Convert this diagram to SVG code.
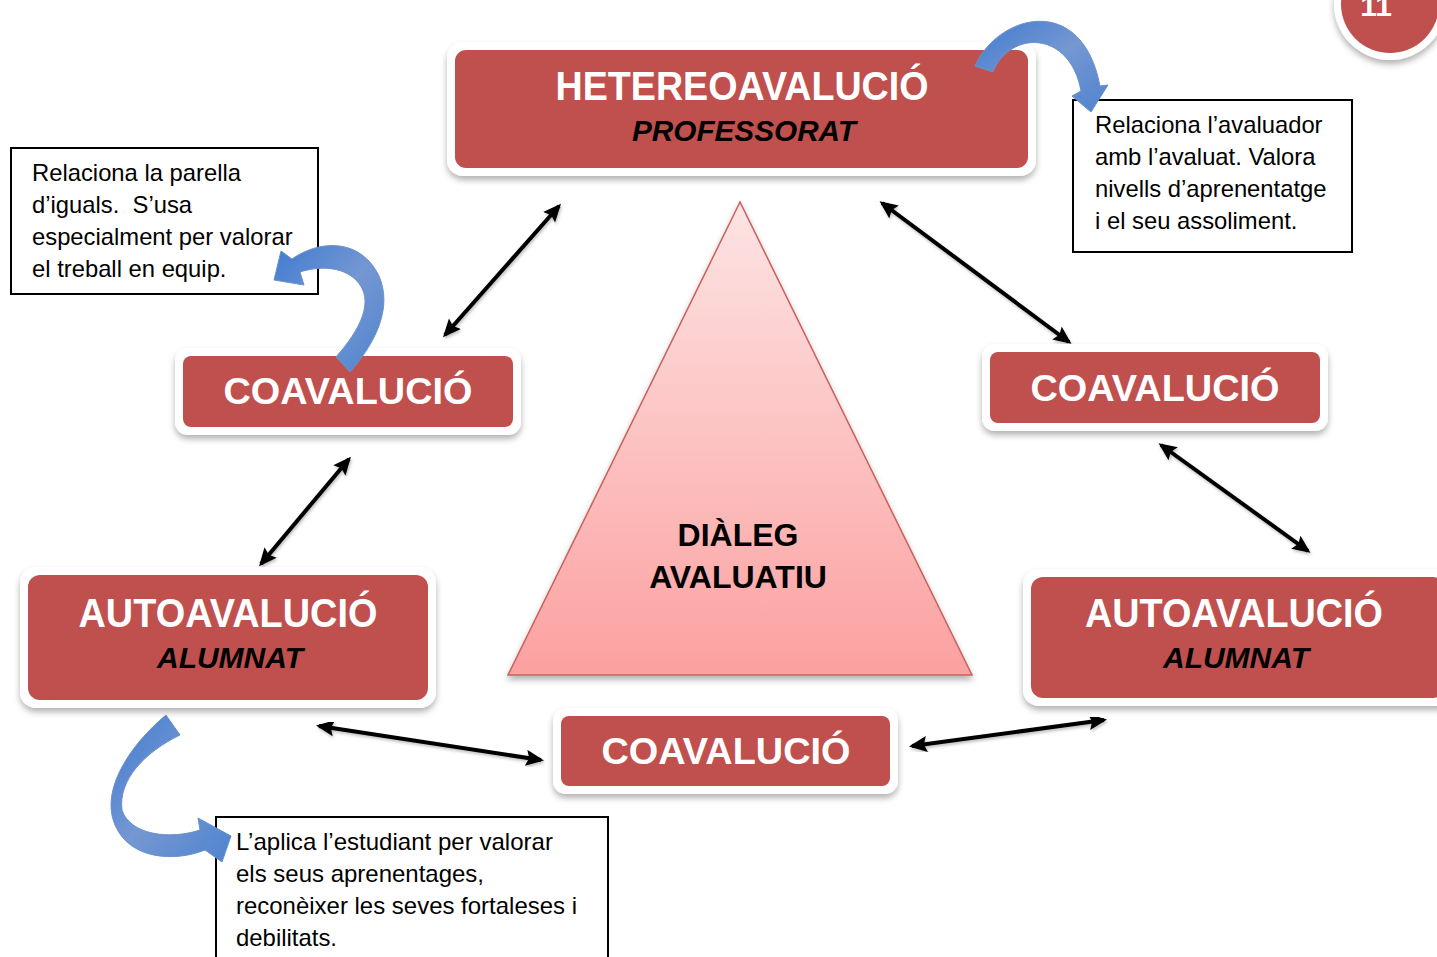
<svg xmlns="http://www.w3.org/2000/svg" width="1437" height="957" viewBox="0 0 1437 957">
<style>
.ring{fill:#ffffff;filter:url(#sh)}
.red{fill:#C0504D}
.ttl{font-family:"Liberation Sans",Arial,sans-serif;font-weight:bold;fill:#ffffff;text-anchor:middle}
.sub{font-family:"Liberation Sans",Arial,sans-serif;font-weight:bold;font-style:italic;fill:#000000;text-anchor:middle}
.note{fill:#ffffff;stroke:#000000;stroke-width:2}
.nt{font-family:"Liberation Sans",Arial,sans-serif;font-size:23.8px;fill:#000000;white-space:pre}
.con{stroke:#000000;stroke-width:4;fill:none;marker-start:url(#ah);marker-end:url(#ah);filter:url(#lsh)}
.blue{fill:url(#bg);stroke:#6a90cc;stroke-width:1}
</style>
<defs>
<filter id="sh" x="-10%" y="-10%" width="120%" height="140%">
<feDropShadow dx="0" dy="4" stdDeviation="3" flood-color="#000000" flood-opacity="0.3"/>
</filter>
<filter id="lsh" x="-10%" y="-10%" width="120%" height="130%">
<feDropShadow dx="1" dy="2" stdDeviation="1.5" flood-color="#000000" flood-opacity="0.25"/>
</filter>
<marker id="ah" markerUnits="userSpaceOnUse" markerWidth="20" markerHeight="18" refX="15" refY="8" orient="auto-start-reverse">
<path d="M0,0 L18,8 L0,16 L3,8 Z" fill="#000000"/>
</marker>
<linearGradient id="tg" x1="0" y1="0" x2="0" y2="1">
<stop offset="0" stop-color="#fde4e4"/>
<stop offset="1" stop-color="#fba1a0"/>
</linearGradient>
<linearGradient id="bg" x1="0" y1="0" x2="1" y2="1">
<stop offset="0" stop-color="#3f7bd0"/>
<stop offset="0.5" stop-color="#7597d2"/>
<stop offset="1" stop-color="#4f84cf"/>
</linearGradient>
</defs>
<rect width="1437" height="957" fill="#ffffff"/>

<g id="page-number">
<circle cx="1390" cy="4" r="56" class="ring"/>
<circle cx="1390" cy="4" r="49" class="red"/>
<text x="1376" y="16" class="ttl" font-size="30">11</text>
</g>

<g id="triangle">
<polygon points="740,202 508,675 972,675" fill="url(#tg)" stroke="#c9605c" stroke-width="1.5" filter="url(#sh)"/>
<text x="738" y="546" font-family="Liberation Sans,Arial,sans-serif" font-weight="bold" font-size="32" text-anchor="middle" fill="#000">DIÀLEG</text>
<text x="738" y="588" font-family="Liberation Sans,Arial,sans-serif" font-weight="bold" font-size="32" text-anchor="middle" fill="#000">AVALUATIU</text>
</g>

<g id="connectors">
<line x1="559" y1="206" x2="445" y2="335" class="con"/>
<line x1="882" y1="203" x2="1069" y2="342" class="con"/>
<line x1="349" y1="459" x2="261" y2="564" class="con"/>
<line x1="1161" y1="445" x2="1308" y2="551" class="con"/>
<line x1="319" y1="726" x2="541" y2="760" class="con"/>
<line x1="912" y1="746" x2="1104" y2="720" class="con"/>
</g>

<g id="hetereoavaluacio">
<rect x="447" y="42" width="589" height="134" rx="16" class="ring"/>
<rect x="455" y="50" width="573" height="118" rx="11" class="red"/>
<text x="742" y="100" class="ttl" font-size="40" textLength="373" lengthAdjust="spacingAndGlyphs">HETEREOAVALUCIÓ</text>
<text x="744" y="141" class="sub" font-size="29" textLength="224" lengthAdjust="spacingAndGlyphs">PROFESSORAT</text>
</g>

<g id="coavaluacio-left">
<rect x="175" y="348" width="346" height="87" rx="13" class="ring"/>
<rect x="183" y="356" width="330" height="71" rx="8" class="red"/>
<text x="348" y="404" class="ttl" font-size="37" textLength="249" lengthAdjust="spacingAndGlyphs">COAVALUCIÓ</text>
</g>

<g id="coavaluacio-right">
<rect x="982" y="344" width="346" height="87" rx="13" class="ring"/>
<rect x="990" y="352" width="330" height="71" rx="8" class="red"/>
<text x="1155" y="401" class="ttl" font-size="37" textLength="249" lengthAdjust="spacingAndGlyphs">COAVALUCIÓ</text>
</g>

<g id="coavaluacio-bottom">
<rect x="553" y="708" width="345" height="86" rx="13" class="ring"/>
<rect x="561" y="716" width="329" height="70" rx="8" class="red"/>
<text x="726" y="764" class="ttl" font-size="37" textLength="249" lengthAdjust="spacingAndGlyphs">COAVALUCIÓ</text>
</g>

<g id="autoavaluacio-left">
<rect x="20" y="567" width="416" height="141" rx="16" class="ring"/>
<rect x="28" y="575" width="400" height="125" rx="12" class="red"/>
<text x="228" y="627" class="ttl" font-size="40" textLength="299" lengthAdjust="spacingAndGlyphs">AUTOAVALUCIÓ</text>
<text x="230" y="668" class="sub" font-size="29" textLength="146" lengthAdjust="spacingAndGlyphs">ALUMNAT</text>
</g>

<g id="autoavaluacio-right">
<rect x="1023" y="569" width="430" height="137" rx="16" class="ring"/>
<rect x="1031" y="577" width="414" height="121" rx="12" class="red"/>
<text x="1234" y="627" class="ttl" font-size="40" textLength="298" lengthAdjust="spacingAndGlyphs">AUTOAVALUCIÓ</text>
<text x="1236" y="668" class="sub" font-size="29" textLength="146" lengthAdjust="spacingAndGlyphs">ALUMNAT</text>
</g>

<g id="note-hetero">
<rect x="1073" y="100" width="279" height="152" class="note"/>
<text class="nt" x="1095" y="133">Relaciona l’avaluador</text>
<text class="nt" x="1095" y="165">amb l’avaluat. Valora</text>
<text class="nt" x="1095" y="197">nivells d’aprenentatge</text>
<text class="nt" x="1095" y="229">i el seu assoliment.</text>
</g>

<g id="note-coav">
<rect x="11" y="148" width="307" height="146" class="note"/>
<text class="nt" x="32" y="181">Relaciona la parella</text>
<text class="nt" x="32" y="213">d’iguals.  S’usa</text>
<text class="nt" x="32" y="245">especialment per valorar</text>
<text class="nt" x="32" y="277">el treball en equip.</text>
</g>

<g id="note-auto">
<rect x="216" y="817" width="392" height="150" class="note"/>
<text class="nt" x="236" y="850" font-size="24" textLength="317" lengthAdjust="spacingAndGlyphs">L’aplica l’estudiant per valorar</text>
<text class="nt" x="236" y="882" font-size="24" textLength="248" lengthAdjust="spacingAndGlyphs">els seus aprenentages,</text>
<text class="nt" x="236" y="914" font-size="24" textLength="341" lengthAdjust="spacingAndGlyphs">reconèixer les seves fortaleses i</text>
<text class="nt" x="236" y="946" font-size="24" textLength="101" lengthAdjust="spacingAndGlyphs">debilitats.</text>
</g>

<g id="curved-arrows">
<path class="blue" d="M975,66 C998,14 1082,-8 1100,86 L1108,85 L1091,112 L1072,96 L1081,91 C1070,30 1010,30 993,72 Z"/>
<path class="blue" d="M336,357 C360,330 376,300 356,280 C342,266 318,266 300,272 L304,285 L274,280 L281,251 L292,259 C322,238 362,240 379,276 C392,306 378,340 350,372 Z"/>
<path class="blue" d="M166,715 C130,745 100,790 115,825 C130,860 175,862 205,850 L222,862 L231,836 L198,818 L200,830 C170,840 130,835 122,810 C118,780 145,752 180,735 Z"/>
</g>
</svg>
